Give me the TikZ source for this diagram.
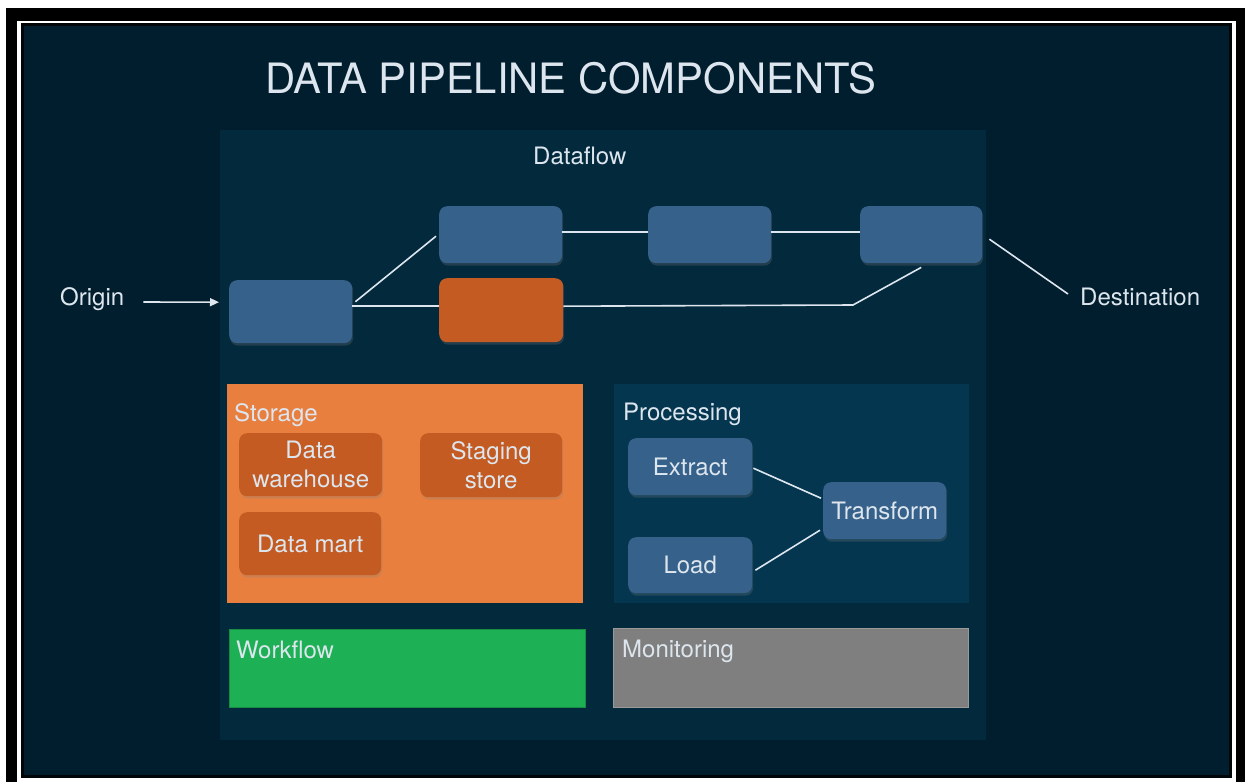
\documentclass[tikz,border=0pt]{standalone}
\usepackage{fontspec}
\setmainfont{TeX Gyre Heros}
\usetikzlibrary{shadows,arrows.meta}
\definecolor{navybg}{HTML}{011E2E}
\definecolor{panelbg}{HTML}{03293D}
\definecolor{procbg}{HTML}{053650}
\definecolor{boxblue}{HTML}{36618A}
\definecolor{boxorange}{HTML}{C45B22}
\definecolor{storagebg}{HTML}{E97F3F}
\definecolor{workgreen}{HTML}{1DB054}
\definecolor{mongray}{HTML}{7F7F7F}
\definecolor{txt}{HTML}{DDE6EE}
\tikzset{
  shad/.style={drop shadow={opacity=0.25, shadow xshift=1pt, shadow yshift=-2.5pt}},
  bluebox/.style={rounded corners=8pt, fill=boxblue, anchor=north west, inner sep=0pt, shad},
  orangebox/.style={rounded corners=8pt, fill=boxorange, anchor=north west, inner sep=0pt, shad},
  lbl/.style={text=txt, font=\fontsize{24}{29}\selectfont, align=center},
  plainlbl/.style={text=txt, font=\fontsize{24}{29}\selectfont, anchor=base west, inner sep=0pt},
  conn/.style={draw=txt, line width=1.6pt},
  area/.style={anchor=north west, inner sep=0pt},
}
\begin{document}
\begin{tikzpicture}[x=1pt,y=-1pt]
\useasboundingbox (0,0) rectangle (1245,782);
% frame
\fill[white] (0,0) rectangle (1245,782);
\fill[black] (6,8) rectangle (1245,782);
\fill[white] (17,21) rectangle (1236,782);
\fill[black!85!navybg] (21,23) rectangle (1232,778);
\fill[navybg] (24,26) rectangle (1229,775);
% title
\node[text=txt, font=\fontsize{41.8}{48}\selectfont, anchor=base west, inner sep=0pt] (title) at (265,93.5) {DATA PIPELINE COMPONENTS};
% dataflow panel
\node[area, fill=panelbg, minimum width=766pt, minimum height=610pt] (panel) at (220,130) {};
\node[plainlbl] (dataflow) at (533,164) {Dataflow};
% dataflow boxes
\node[bluebox, minimum width=123pt, minimum height=63pt] (b1) at (229,280) {};
\node[bluebox, minimum width=123pt, minimum height=57pt] (b2) at (439,206) {};
\node[bluebox, minimum width=123pt, minimum height=57pt] (b3) at (648,206) {};
\node[bluebox, minimum width=122pt, minimum height=57pt] (b4) at (860,206) {};
\node[orangebox, minimum width=124pt, minimum height=64pt] (o1) at (439,278) {};
% origin / destination
\node[plainlbl] (origin) at (60,305) {Origin};
\node[plainlbl] (dest) at (1080,305) {Destination};
\coordinate (k) at (853,305);
\draw[conn, -{Triangle[length=9pt,width=8pt]}] ([shift={(19,-3)}]origin.base east) -- ([shift={(-10,-9.5)}]b1.west);
\draw[conn] ([shift={(3,-10)}]b1.east) -- ([shift={(-3,1.5)}]b2.west);
\draw[conn] ([yshift=5.5pt]b1.east) -- ([yshift=4pt]o1.west);
\draw[conn] ([yshift=4pt]o1.east) -- (k) -- ([yshift=-4pt]b4.south);
\draw[conn] ([yshift=2.5pt]b2.east) -- ([yshift=2.5pt]b3.west);
\draw[conn] ([yshift=2.5pt]b3.east) -- ([yshift=2.5pt]b4.west);
\draw[conn] ([shift={(7,4.5)}]b4.east) -- ([shift={(-12,-11)}]dest.base west);
% storage
\node[area, fill=storagebg, minimum width=356pt, minimum height=219pt] (storage) at (227,384) {};
\node[plainlbl] (storagelbl) at (234,421) {Storage};
\node[orangebox, minimum width=143pt, minimum height=63pt, lbl] (dw) at (239,433) {Data\\warehouse};
\node[orangebox, minimum width=142pt, minimum height=64pt, lbl] (ss) at (420,433) {Staging\\store};
\node[orangebox, minimum width=142pt, minimum height=63pt, lbl] (dm) at (239,512) {Data mart};
% processing
\node[area, fill=procbg, minimum width=355pt, minimum height=219pt] (proc) at (614,384) {};
\node[plainlbl] (proclbl) at (623,420) {Processing};
\node[bluebox, minimum width=124pt, minimum height=57pt, lbl] (ex) at (628,438) {Extract};
\node[bluebox, minimum width=124pt, minimum height=56pt, lbl] (ld) at (628,537) {Load};
\node[bluebox, minimum width=123pt, minimum height=57pt, lbl] (tr) at (823,482) {Transform};
\draw[conn] ([shift={(1,1.5)}]ex.east) -- ([shift={(-2,-12.5)}]tr.west);
\draw[conn] ([shift={(3,5)}]ld.east) -- ([shift={(-3,19.5)}]tr.west);
% workflow / monitoring
\node[area, fill=workgreen, draw=workgreen!80!black, line width=0.6pt, minimum width=356pt, minimum height=78pt] (wf) at (229,629) {};
\node[plainlbl] (wflbl) at (236,658) {Workflow};
\node[area, fill=mongray, draw=mongray!80!white, line width=0.6pt, minimum width=355pt, minimum height=79pt] (mon) at (613,628) {};
\node[plainlbl] (monlbl) at (622,657) {Monitoring};
\end{tikzpicture}
\end{document}
